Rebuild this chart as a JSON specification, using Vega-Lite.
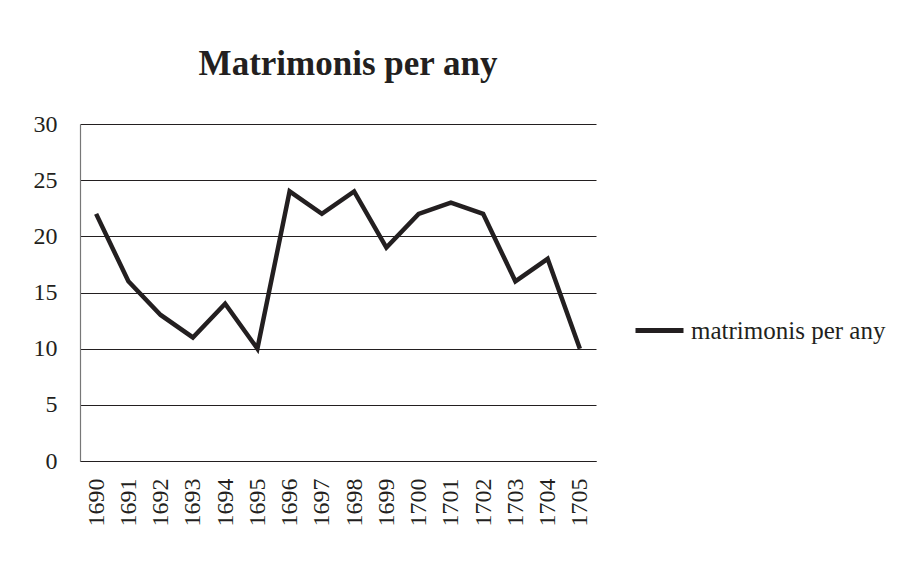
{
  "$schema": "https://vega.github.io/schema/vega-lite/v6.json",
  "autosize": {"type": "none"},
  "width": 516,
  "height": 337,
  "padding": {"left": 80, "top": 124, "right": 310, "bottom": 103},
  "background": "white",
  "title": {
    "text": "Matrimonis per any",
    "font": "Liberation Serif",
    "fontSize": 35,
    "fontWeight": "bold",
    "color": "#231f20",
    "anchor": "middle",
    "dx": 10,
    "offset": 30
  },
  "data": {
    "values": [
      {"year": "1690", "value": 22, "series": "matrimonis per any"},
      {"year": "1691", "value": 16, "series": "matrimonis per any"},
      {"year": "1692", "value": 13, "series": "matrimonis per any"},
      {"year": "1693", "value": 11, "series": "matrimonis per any"},
      {"year": "1694", "value": 14, "series": "matrimonis per any"},
      {"year": "1695", "value": 10, "series": "matrimonis per any"},
      {"year": "1696", "value": 24, "series": "matrimonis per any"},
      {"year": "1697", "value": 22, "series": "matrimonis per any"},
      {"year": "1698", "value": 24, "series": "matrimonis per any"},
      {"year": "1699", "value": 19, "series": "matrimonis per any"},
      {"year": "1700", "value": 22, "series": "matrimonis per any"},
      {"year": "1701", "value": 23, "series": "matrimonis per any"},
      {"year": "1702", "value": 22, "series": "matrimonis per any"},
      {"year": "1703", "value": 16, "series": "matrimonis per any"},
      {"year": "1704", "value": 18, "series": "matrimonis per any"},
      {"year": "1705", "value": 10, "series": "matrimonis per any"}
    ]
  },
  "mark": {"type": "line", "strokeWidth": 4.5, "strokeJoin": "miter", "strokeCap": "butt"},
  "encoding": {
    "x": {
      "field": "year",
      "type": "ordinal",
      "scale": {"type": "point", "padding": 0.5},
      "axis": {
        "title": null,
        "labelAngle": 270,
        "labelFont": "Liberation Serif",
        "labelFontSize": 24,
        "labelColor": "#231f20",
        "labelPadding": 17,
        "ticks": false,
        "tickSize": 0,
        "grid": false,
        "domainColor": "#231f20",
        "domainWidth": 1.2
      }
    },
    "y": {
      "field": "value",
      "type": "quantitative",
      "scale": {"domain": [0, 30], "nice": false},
      "axis": {
        "title": null,
        "values": [0, 5, 10, 15, 20, 25, 30],
        "labelFont": "Liberation Serif",
        "labelFontSize": 24,
        "labelColor": "#231f20",
        "labelPadding": 23,
        "ticks": false,
        "tickSize": 0,
        "grid": true,
        "gridColor": "#231f20",
        "gridOpacity": 1,
        "gridWidth": 1,
        "domainColor": "#777777",
        "domainWidth": 1.2
      }
    },
    "color": {
      "field": "series",
      "type": "nominal",
      "scale": {"range": ["#231f20"]},
      "legend": {
        "title": null,
        "orient": "none",
        "legendX": 553,
        "legendY": 180,
        "symbolType": "stroke",
        "symbolSize": 2304,
        "symbolStrokeWidth": 5,
        "labelFont": "Liberation Serif",
        "labelFontSize": 25,
        "labelColor": "#231f20",
        "labelOffset": 5,
        "labelLimit": 400
      }
    }
  },
  "config": {
    "view": {"stroke": null}
  }
}
